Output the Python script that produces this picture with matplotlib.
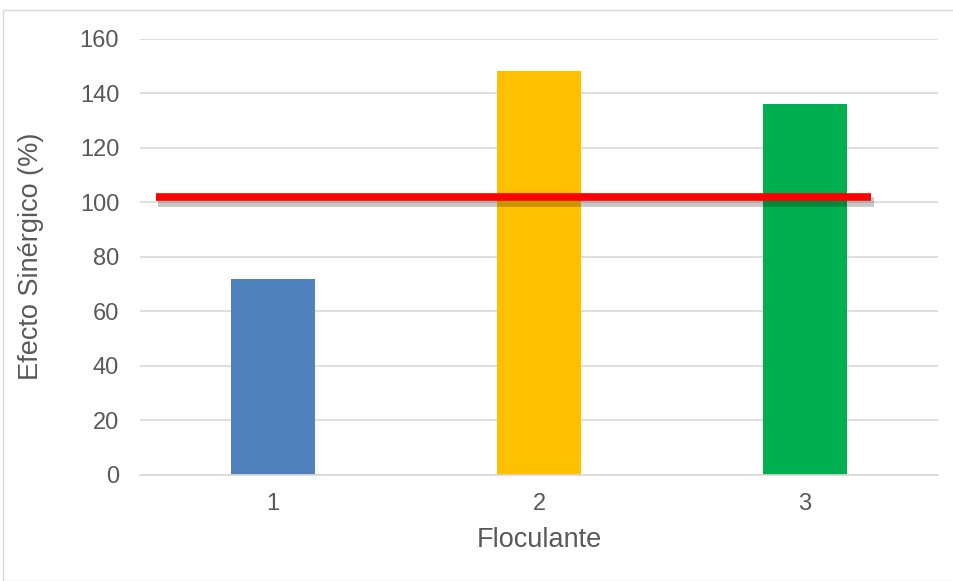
import matplotlib
matplotlib.use("Agg")
import matplotlib.pyplot as plt
import matplotlib.patheffects as pe
from matplotlib.patches import Rectangle

categories = ["1", "2", "3"]
values = [72, 148, 136]
colors = ["#4F81BD", "#FFC000", "#00B050"]
ref_value = 102
ref_x = [0.56, 3.25]
yticks = [0, 20, 40, 60, 80, 100, 120, 140, 160]

plt.rcParams['font.family'] = ['Liberation Sans', 'DejaVu Sans']
txt = "#595959"

fig = plt.figure(figsize=(9.54, 5.81), dpi=100)
fig.patches.append(Rectangle((3/954, 0), 1.0, 1 - 10/581, transform=fig.transFigure,
                             fill=False, edgecolor="#D9D9D9", linewidth=1.0))
ax = fig.add_axes([140/954, 1 - 474.8/581, (938 - 140)/954, (474.8 - 38.8)/581])

x = list(range(1, len(categories) + 1))
ax.bar(x, values, width=0.316, color=colors, zorder=2)
ax.plot(ref_x, [ref_value, ref_value], color="#FF0000", linewidth=5.5, zorder=3,
        solid_capstyle="butt",
        path_effects=[pe.SimpleLineShadow(offset=(1.5, -3.5), shadow_color="#000000", alpha=0.22,
                                          linewidth=7),
                      pe.Normal()])

ax.set_xlim(0.5, 3.5)
ax.set_ylim(0, 160)
ax.set_yticks(yticks)
ax.set_xticks(x)
ax.set_xticklabels(categories)
ax.yaxis.grid(True, color="#D9D9D9", linewidth=1.2, zorder=0)
ax.set_axisbelow(True)
for s in ["top", "right", "left"]:
    ax.spines[s].set_visible(False)
ax.spines["bottom"].set_color("#D9D9D9")
ax.spines["bottom"].set_linewidth(1.2)
ax.tick_params(axis="both", length=0, labelsize=17, labelcolor=txt)
ax.tick_params(axis="y", pad=15)
ax.tick_params(axis="x", pad=13)
ax.set_xlabel("Floculante", fontsize=19.5, color=txt, va="center")
ax.set_ylabel("Efecto Sinérgico (%)", fontsize=19.5, color=txt, va="center")
ax.xaxis.set_label_coords(0.5, (474.8 - 540) / 436)
ax.yaxis.set_label_coords((31 - 140) / 798, 0.5)

fig.savefig("out.png", dpi=100)
